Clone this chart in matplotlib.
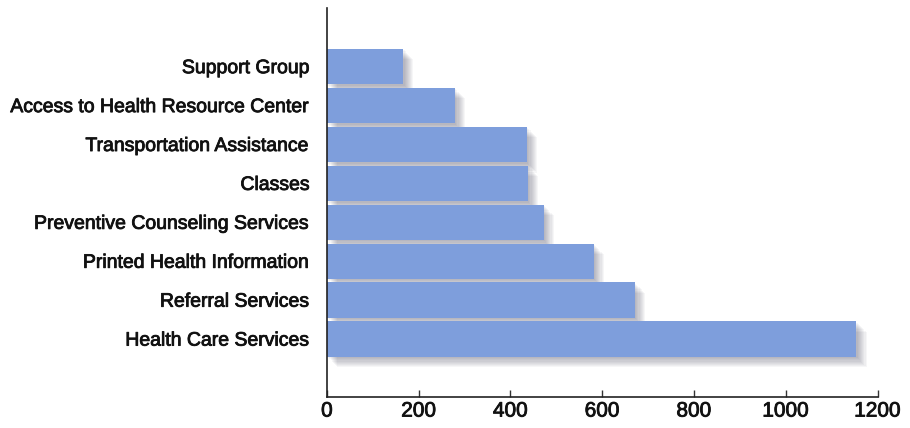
import matplotlib
matplotlib.use('Agg')
import matplotlib.pyplot as plt
import matplotlib.patheffects as pe

categories = ['Health Care Services', 'Referral Services', 'Printed Health Information',
              'Preventive Counseling Services', 'Classes', 'Transportation Assistance',
              'Access to Health Resource Center', 'Support Group']
values = [1154, 671, 581, 472, 438, 436, 279, 166]
xticks = [0, 200, 400, 600, 800, 1000, 1200]

plt.rcParams['font.family'] = ['Liberation Sans', 'DejaVu Sans']

fig = plt.figure(figsize=(9.1, 4.28), dpi=100)
ax = fig.add_axes([0.3593, 0.0731, 0.6050, 0.9075])

pos = list(range(len(categories)))
bar_h = 0.91
bar_color = '#7e9edc'

# soft drop shadow under all bars
shadow = ax.barh(pos, values, height=bar_h, color='none', edgecolor='none', zorder=1)
effects = [pe.SimplePatchShadow(offset=(d, -d), shadow_rgbFace='#303048', alpha=0.045)
           for d in (1.0, 1.8, 2.6, 3.4, 4.2, 5.0, 5.8, 6.6, 7.4)]
for p in shadow:
    p.set_facecolor(bar_color)
    p.set_path_effects(effects)

ax.barh(pos, values, height=bar_h, color=bar_color, edgecolor='none', zorder=2)

ax.set_xlim(0, 1200)
ax.set_ylim(-1.48, 8.5)
ax.set_xticks(xticks)
ax.set_xticklabels([str(v) for v in xticks])
ax.set_yticks(pos)
ax.set_yticklabels(categories)

for s in ('top', 'right'):
    ax.spines[s].set_visible(False)
for s in ('left', 'bottom'):
    ax.spines[s].set_color('#222222')
    ax.spines[s].set_linewidth(1.2)
    ax.spines[s].set_zorder(3)

ax.tick_params(axis='x', direction='in', length=5, width=1.0, color='#333333',
               labelsize=15, pad=3.5, labelcolor='#111111')
ax.tick_params(axis='y', length=0, labelsize=14, pad=12, labelcolor='#111111')

bold = [pe.withStroke(linewidth=0.6, foreground='#111111')]
for lbl in ax.get_xticklabels() + ax.get_yticklabels():
    lbl.set_path_effects(bold)

fig.savefig('out.png', dpi=100)
